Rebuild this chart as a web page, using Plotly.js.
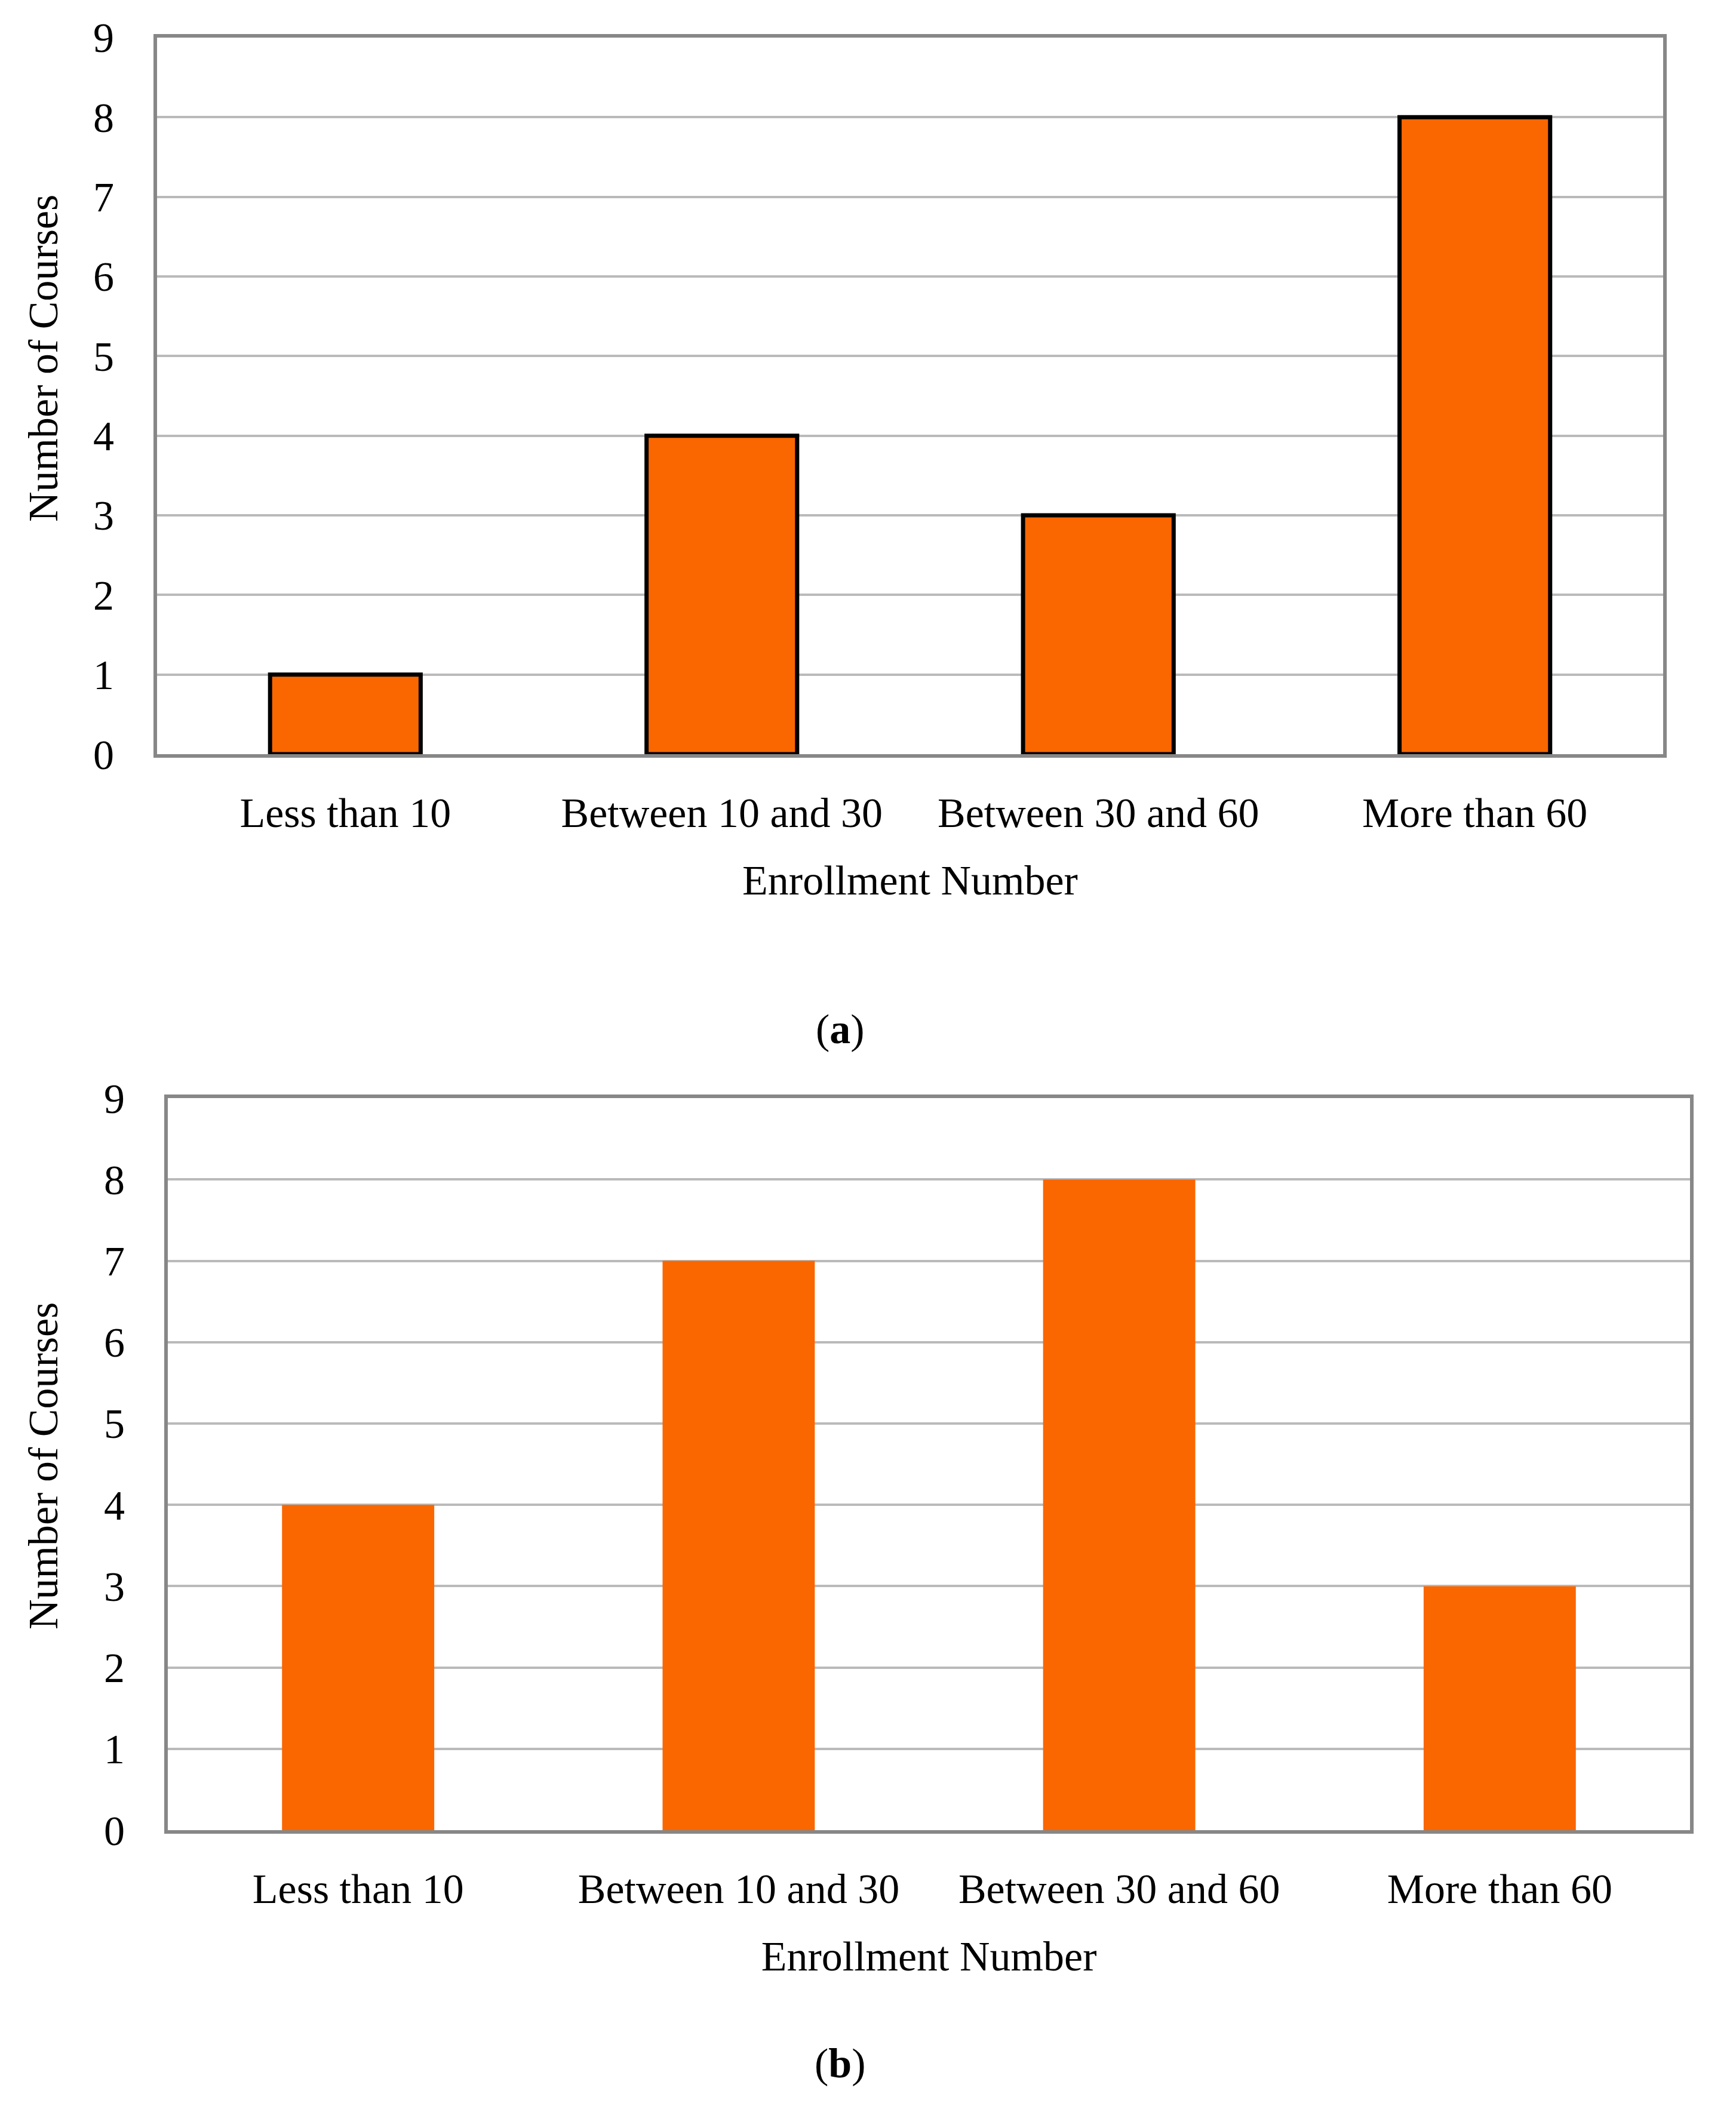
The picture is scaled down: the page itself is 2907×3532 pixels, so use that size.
<!DOCTYPE html>
<html>
<head>
<meta charset="utf-8">
<script src="https://cdn.plot.ly/plotly-3.0.1.min.js"></script>
<style>html,body{margin:0;padding:0;background:#fff;}#chart{width:2907px;height:3532px;}</style>
</head>
<body>
<div id="chart"></div>
<script>
const categories = ["Less than 10", "Between 10 and 30", "Between 30 and 60", "More than 60"];
const coursesA = [1, 4, 3, 8];
const coursesB = [4, 7, 8, 3];
const yTickVals = [0, 1, 2, 3, 4, 5, 6, 7, 8, 9];
const xTitle = "Enrollment Number";
const yTitle = "Number of Courses";
const captionA = "(<b>a</b>)";
const captionB = "(<b>b</b>)";

const FONT = "Liberation Serif, Times New Roman, serif";
const FS = 70;
const ORANGE = "#FA6600";
const FRAME = "#878787";
const GRID = "#BABABA";

const traces = [
  {type: "bar", x: categories, y: coursesA, xaxis: "x", yaxis: "y",
   marker: {color: ORANGE, line: {color: "#000000", width: 7}}, showlegend: false, hoverinfo: "none"},
  {type: "bar", x: categories, y: coursesB, xaxis: "x2", yaxis: "y2",
   marker: {color: ORANGE, line: {width: 0}}, showlegend: false, hoverinfo: "none"}
];

function xAxis(domain, anchor) {
  return {domain: domain, anchor: anchor, showline: true, mirror: true, linecolor: FRAME, linewidth: 6,
    showgrid: false, ticks: "", ticklabelstandoff: 32, tickfont: {family: FONT, size: FS, color: "#000"},
    title: {text: xTitle, font: {family: FONT, size: FS, color: "#000"}, standoff: 52}, fixedrange: true};
}
function yAxis(domain, anchor) {
  return {domain: domain, anchor: anchor, range: [0, 9], tickvals: yTickVals, showline: true, mirror: true,
    linecolor: FRAME, linewidth: 6, showgrid: true, gridcolor: GRID, gridwidth: 4, zeroline: false,
    ticks: "", ticklabelstandoff: 52, tickfont: {family: FONT, size: FS, color: "#000"},
    fixedrange: true};
}

const layout = {
  width: 2907, height: 3532,
  margin: {l: 0, r: 0, t: 0, b: 0},
  paper_bgcolor: "#fff", plot_bgcolor: "#fff",
  bargap: 0.6,
  font: {family: FONT, size: FS, color: "#000"},
  xaxis: xAxis([0.0905, 0.958], "y"),
  yaxis: yAxis([0.6424, 0.9822], "x"),
  xaxis2: xAxis([0.0967, 0.9735], "y2"),
  yaxis2: yAxis([0.1322, 0.4793], "x2"),
  annotations: [
    {text: yTitle, xref: "paper", yref: "paper", x: 72 / 2907, y: 1 - 600 / 3532, textangle: -90,
     showarrow: false, font: {family: FONT, size: FS, color: "#000"}, xanchor: "center", yanchor: "middle"},
    {text: yTitle, xref: "paper", yref: "paper", x: 72 / 2907, y: 1 - 2455 / 3532, textangle: -90,
     showarrow: false, font: {family: FONT, size: FS, color: "#000"}, xanchor: "center", yanchor: "middle"},
    {text: captionA, xref: "paper", yref: "paper", x: 0.484, y: 0.5119, showarrow: false,
     font: {family: FONT, size: FS, color: "#000"}, xanchor: "center", yanchor: "middle"},
    {text: captionB, xref: "paper", yref: "paper", x: 0.484, y: 0.0218, showarrow: false,
     font: {family: FONT, size: FS, color: "#000"}, xanchor: "center", yanchor: "middle"}
  ]
};

Plotly.newPlot("chart", traces, layout, {staticPlot: true, displayModeBar: false});
</script>
</body>
</html>
